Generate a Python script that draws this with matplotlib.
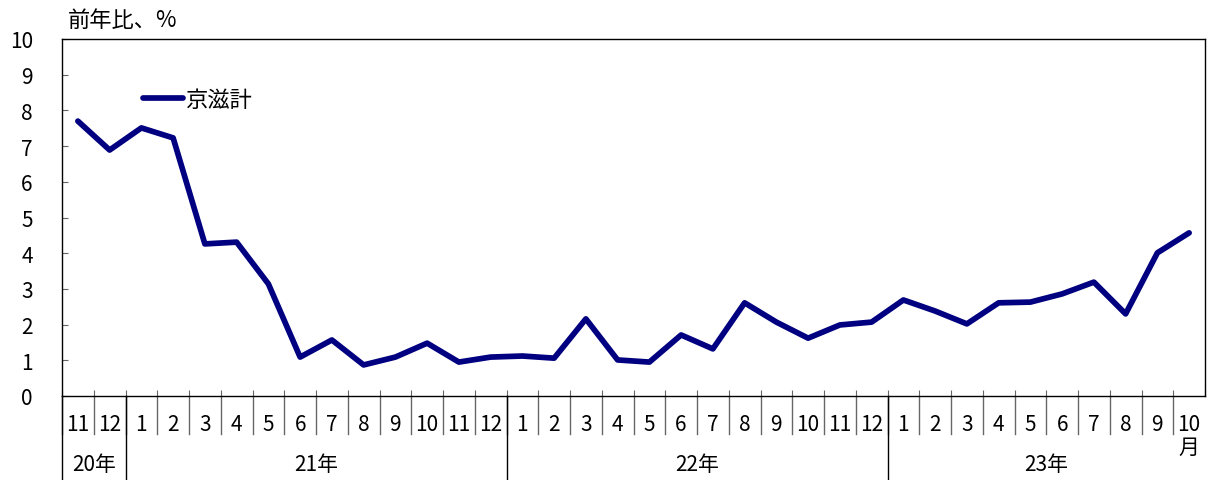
import numpy as np
import matplotlib
matplotlib.use('Agg')
from matplotlib import pyplot as plt

plt.rcParams['font.family'] = ['Noto Sans CJK JP', 'DejaVu Sans']

# 20年11月 ～ 23年10月
months = [11, 12, 1, 2, 3, 4, 5, 6, 7, 8, 9, 10, 11, 12,
          1, 2, 3, 4, 5, 6, 7, 8, 9, 10, 11, 12,
          1, 2, 3, 4, 5, 6, 7, 8, 9, 10]
years = ['20年', '21年', '22年', '23年']
year_counts = [2, 12, 12, 10]
kyoshiga = [7.70, 6.89, 7.51, 7.23, 4.26, 4.31, 3.14, 1.09, 1.57, 0.87, 1.09, 1.48, 0.95, 1.09,
            1.12, 1.06, 2.16, 1.01, 0.95, 1.71, 1.32, 2.61, 2.07, 1.62, 1.99, 2.07,
            2.69, 2.38, 2.02, 2.61, 2.63, 2.86, 3.19, 2.30, 4.01, 4.57]
series_name = '京滋計'
yticks = list(range(0, 11))

W, H = 1208, 481
fig = plt.figure(figsize=(W / 100, H / 100), dpi=100)
ax = fig.add_axes([62 / W, 1 - 397 / H, (1205 - 62) / W, (397 - 40) / H])

x = np.arange(len(months))
ax.plot(x, kyoshiga, color='#000080', lw=4.1, solid_capstyle='round', label=series_name)

ax.set_xlim(-0.5, len(months) - 0.5)
ax.set_ylim(0, 10)
ax.set_yticks(yticks)
ax.set_yticklabels([str(v) for v in yticks], fontsize=15)
ax.tick_params(axis='y', direction='in', length=4, color='#666666', pad=21)
for lab in ax.get_yticklabels():
    lab.set_horizontalalignment('right')

ax.set_xticks(np.arange(len(months) + 1) - 0.5)
ax.set_xticklabels([])
ax.tick_params(axis='x', direction='in', length=4, color='#666666')

for sp in ax.spines.values():
    sp.set_linewidth(1.0)
    sp.set_color('black')

# month labels and separators below the axis
tr = ax.get_xaxis_transform()
y_month = (397 - 425) / 357
y_sep = (397 - 435) / 357
y_year = (397 - 465) / 357
y_bot = (397 - 481) / 357
for i, m in enumerate(months):
    ax.text(i, y_month, str(m), transform=tr, ha='center', va='center', fontsize=15)
    ax.plot([i - 0.5, i - 0.5], [0, y_sep], transform=tr, color='#666666', lw=1, clip_on=False)
ax.text(len(months) - 1, (397 - 448) / 357, '月', transform=tr, ha='center', va='center', fontsize=15)

start = 0
for yr, n in zip(years, year_counts):
    ax.plot([start - 0.5, start - 0.5], [0, y_bot], transform=tr, color='black', lw=1, clip_on=False)
    ax.text(start + n / 2 - 0.5, y_year, yr, transform=tr, ha='center', va='center', fontsize=15)
    start += n

fig.text(68 / W, 1 - 20 / H, '前年比、%', ha='left', va='center', fontsize=16)

ax.legend(loc='upper left', bbox_to_anchor=((143 - 62) / 1143, (397 - 89) / 357),
          frameon=False, fontsize=16, handlelength=1.8, handletextpad=0.15,
          borderpad=0, borderaxespad=0)

fig.savefig('out.png', dpi=100)
